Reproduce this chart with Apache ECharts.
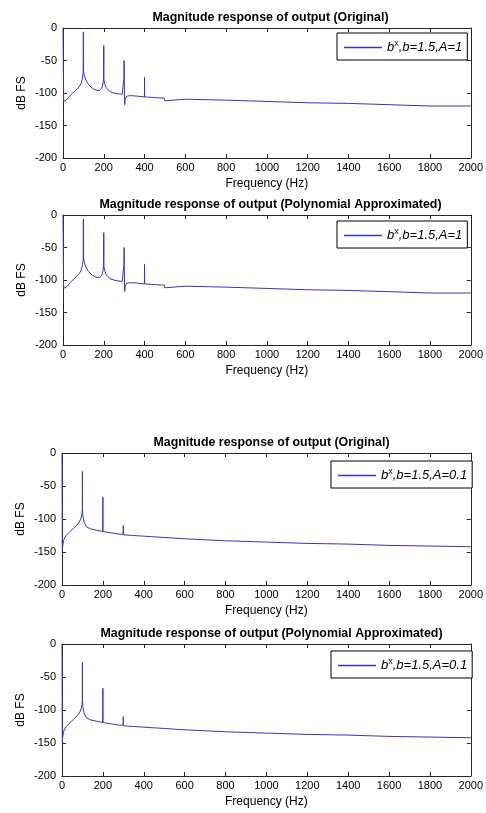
<!DOCTYPE html>
<html>
<head>
<meta charset="utf-8">
<script src="https://cdn.jsdelivr.net/npm/echarts@6/dist/echarts.min.js"></script>
<style>
  html, body { margin: 0; padding: 0; background: #fff; }
  #chart { width: 486px; height: 813px; }
</style>
</head>
<body>
<div id="chart"></div>
<script>
// Frequency ticks and level ticks
const freqTicks = [0, 200, 400, 600, 800, 1000, 1200, 1400, 1600, 1800, 2000];
const levelTicks = [-200, -150, -100, -50, 0];

// Spectrum of b^x output, b = 1.5, A = 1 (frequency in Hz, level in dB FS)
const freqA1 = [0, 3, 8, 20, 35, 55, 75, 88, 95, 99, 100, 100.6, 104, 112, 125, 145, 165, 180, 190, 196, 199, 200, 200.6, 204, 212, 230, 260, 290, 298, 299.3, 299.7, 300.2, 301, 302.5, 305, 312, 330, 370, 399.4, 400, 400.6, 450, 497, 499.5, 500.5, 600, 800, 1000, 1200, 1400, 1600, 1800, 2000];
const levelA1 = [-1, -113, -115, -110, -104, -98, -92, -86, -78, -68, -6, -66, -72, -80, -87, -93, -96, -96, -93, -86, -78, -27, -79, -85, -92, -98, -101, -102, -100, -76, -50, -76, -78, -118, -110, -105, -104, -105, -106, -76, -106, -107, -108, -112, -109, -109.5, -111, -113, -115, -116, -118, -120, -120];

// Spectrum of b^x output, b = 1.5, A = 0.1
const freqA01 = [0, 1.5, 4, 8, 20, 40, 60, 80, 92, 98, 99.5, 100, 100.5, 102, 108, 120, 140, 170, 199.5, 200, 200.5, 240, 280, 299.4, 299.8, 300.3, 301, 303, 350, 400, 500, 600, 800, 1000, 1200, 1400, 1600, 1800, 2000];
const levelA01 = [-1, -148, -140, -132, -125, -119, -113, -107, -100, -92, -86, -28, -86, -95, -105, -112, -115, -117, -119, -67, -119, -121, -123, -123, -110, -124, -126, -124, -125, -126, -128, -130, -133, -135, -137, -138, -140, -141, -142];

const panelTitles = [
  'Magnitude response of output (Original)',
  'Magnitude response of output (Polynomial Approximated)',
  'Magnitude response of output (Original)',
  'Magnitude response of output (Polynomial Approximated)'
];
const seriesNames = ['orig A=1', 'poly A=1', 'orig A=0.1', 'poly A=0.1'];
const legendLabels = {
  'orig A=1': ',b=1.5,A=1',
  'poly A=1': ',b=1.5,A=1',
  'orig A=0.1': ',b=1.5,A=0.1',
  'poly A=0.1': ',b=1.5,A=0.1'
};

function pairs(xs, ys) { return xs.map((x, i) => [x, ys[i]]); }

const panelData = [
  pairs(freqA1, levelA1),
  pairs(freqA1, levelA1),
  pairs(freqA01, levelA01),
  pairs(freqA01, levelA01)
];

// Layout of the four axes boxes
const panels = [
  { left: 63, right: 14, top: 28, height: 130, legendTop: 33, legendLeft: 337 },
  { left: 63, right: 14, top: 215, height: 130, legendTop: 221, legendLeft: 337 },
  { left: 62, right: 11, top: 453, height: 132, legendTop: 461, legendLeft: 331 },
  { left: 62, right: 11, top: 644, height: 132, legendTop: 651, legendLeft: 331 }
];

const FONT = '"Liberation Sans", Arial, sans-serif';
const LINE_COLOR = '#3636c4';
const AXIS_COLOR = '#262626';

const grid = [], xAxis = [], yAxis = [], series = [], title = [], legend = [];

panels.forEach((p, i) => {
  grid.push({ left: p.left, right: p.right, top: p.top, height: p.height, containLabel: false });
  const tickStyle = { show: true, inside: true, length: 4, lineStyle: { color: AXIS_COLOR, width: 1 } };
  const lineStyle = { show: true, onZero: false, lineStyle: { color: AXIS_COLOR, width: 1 } };
  xAxis.push({
    type: 'value', gridIndex: i, position: 'bottom', min: 0, max: 2000, interval: 200,
    axisLine: lineStyle, axisTick: tickStyle, splitLine: { show: false },
    axisLabel: { color: '#000', fontFamily: FONT, fontSize: 11, margin: 4, formatter: v => String(v) },
    name: 'Frequency (Hz)', nameLocation: 'middle', nameGap: 20, nameMoveOverlap: false,
    nameTextStyle: { color: '#000', fontFamily: FONT, fontSize: 12 }
  });
  xAxis.push({
    type: 'value', gridIndex: i, position: 'top', min: 0, max: 2000, interval: 200,
    axisLine: lineStyle, axisTick: tickStyle, splitLine: { show: false },
    axisLabel: { show: false }
  });
  yAxis.push({
    type: 'value', gridIndex: i, position: 'left', min: -200, max: 0, interval: 50,
    axisLine: lineStyle, axisTick: tickStyle, splitLine: { show: false },
    axisLabel: { color: '#000', fontFamily: FONT, fontSize: 11, margin: 6, formatter: v => String(v) },
    name: 'dB FS', nameLocation: 'middle', nameGap: 35, nameMoveOverlap: false,
    nameTextStyle: { color: '#000', fontFamily: FONT, fontSize: 12 }
  });
  yAxis.push({
    type: 'value', gridIndex: i, position: 'right', min: -200, max: 0, interval: 50,
    axisLine: lineStyle, axisTick: tickStyle, splitLine: { show: false },
    axisLabel: { show: false }
  });
  series.push({
    name: seriesNames[i], type: 'line', xAxisIndex: 2 * i, yAxisIndex: 2 * i,
    data: panelData[i], showSymbol: false, symbol: 'none',
    lineStyle: { color: LINE_COLOR, width: 1 }, itemStyle: { color: LINE_COLOR },
    silent: true, clip: true
  });
  title.push({
    text: panelTitles[i], left: (p.left + (486 - p.right)) / 2 - 2, top: p.top - 21,
    textAlign: 'center',
    textStyle: { fontFamily: FONT, fontSize: 12.4, fontWeight: 'bold', color: '#000' }
  });
  legend.push({
    data: [seriesNames[i]], left: p.legendLeft, top: p.legendTop,
    icon: 'rect', itemWidth: 38, itemHeight: 1.5, itemGap: 0,
    itemStyle: { color: LINE_COLOR, borderWidth: 0 },
    padding: [6, 5, 6, 7], borderColor: '#000', borderWidth: 1, backgroundColor: '#fff',
    selectedMode: false,
    formatter: name => '{i|b}{s|x}{i|' + legendLabels[name] + '}',
    textStyle: {
      color: '#000', fontFamily: FONT, fontSize: 13,
      rich: {
        i: { fontFamily: FONT, fontSize: 13, fontStyle: 'italic', color: '#000', lineHeight: 17 },
        s: { fontFamily: FONT, fontSize: 9, color: '#000', verticalAlign: 'top', lineHeight: 11 }
      }
    }
  });
});

const chart = echarts.init(document.getElementById('chart'), null, { renderer: 'canvas' });
chart.setOption({
  animation: false,
  backgroundColor: '#fff',
  title, legend, grid, xAxis, yAxis, series
});
</script>
</body>
</html>
